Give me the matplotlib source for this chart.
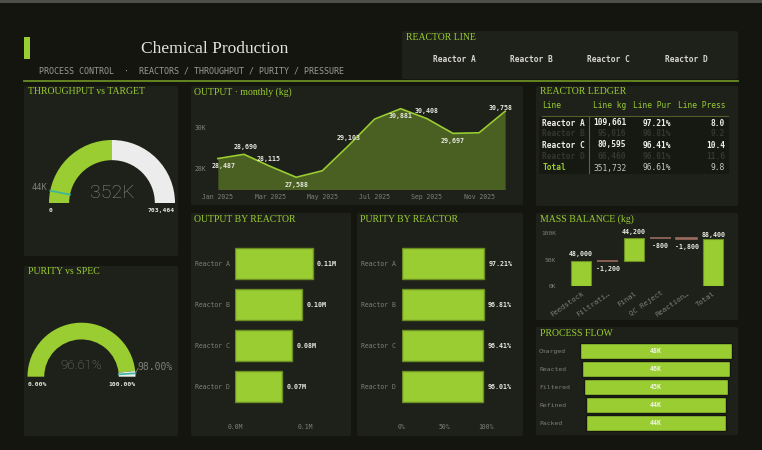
import matplotlib
matplotlib.use('Agg')
import matplotlib.pyplot as plt
from matplotlib.patches import Wedge, FancyBboxPatch, Rectangle
import numpy as np

# ---- data ----
months = ['Jan 2025', 'Feb 2025', 'Mar 2025', 'Apr 2025', 'May 2025', 'Jun 2025',
          'Jul 2025', 'Aug 2025', 'Sep 2025', 'Oct 2025', 'Nov 2025', 'Dec 2025']
monthly_kg = [28487, 28690, 28115, 27588, 27900, 29103,
              30380, 30881, 30408, 29697, 29725, 30758]
labeled_months = [0, 1, 2, 3, 5, 7, 8, 9, 11]

reactors = ['Reactor A', 'Reactor B', 'Reactor C', 'Reactor D']
reactor_kg = [109661, 95016, 80595, 66460]
reactor_purity = [97.21, 96.81, 96.41, 96.01]
reactor_pressure = [8.0, 9.2, 10.4, 11.6]

throughput_target = 703464
throughput_marker = 44000
purity_spec = 98.0

balance_steps = ['Feedstock', 'Filtrati\u2026', 'Final', 'QC Reject', 'Reaction\u2026']
balance_values = [48000, -1200, 44200, -800, -1800]

flow_stages = ['Charged', 'Reacted', 'Filtered', 'Refined', 'Packed']
flow_kg = [48000, 46400, 45200, 44200, 43900]

# ---- style ----
W, H = 762, 450
BG = '#14150f'
PANEL = '#1e2119'
GREEN = '#9acd32'
EDGE = '#6b8e23'
FILL = '#4a6022'
TEAL = '#3ab5a0'
GRAY = '#7e8076'
LIGHT = '#e8e8e0'
SERIF = 'Liberation Serif'

plt.rcParams['font.family'] = 'DejaVu Sans Mono'

fig = plt.figure(figsize=(W / 100, H / 100), dpi=100, facecolor=BG)
bg = fig.add_axes([0, 0, 1, 1])
bg.set_xlim(0, W)
bg.set_ylim(H, 0)
bg.axis('off')


def px_axes(x0, y0, x1, y1):
    ax = fig.add_axes([x0 / W, 1 - y1 / H, (x1 - x0) / W, (y1 - y0) / H])
    ax.patch.set_alpha(0)
    for s in ax.spines.values():
        s.set_visible(False)
    return ax


def panel(x0, y0, x1, y1, title=None):
    bg.add_patch(FancyBboxPatch((x0, y0), x1 - x0, y1 - y0,
                                boxstyle='round,pad=0,rounding_size=2',
                                fc=PANEL, ec='none'))
    if title:
        bg.text(x0 + 3.5, y0 + 6, title, family=SERIF, fontsize=7,
                color=GREEN, va='center', ha='left')


# header
bg.add_patch(Rectangle((0, 0), W, 2.5, fc='#4e4e4a', ec='none'))
bg.add_patch(Rectangle((24, 37), 6, 22, fc=GREEN, ec='none'))
bg.text(215, 49, 'Chemical Production', family=SERIF, fontsize=12.5,
        color='#e4e4dc', ha='center', va='center')
bg.text(39, 71.5, 'PROCESS CONTROL  \u00b7  REACTORS / THROUGHPUT / PURITY / PRESSURE',
        fontsize=6, color='#9a9b92', va='center')
bg.plot([24, 738], [81, 81], color=EDGE, lw=1.3)

panel(402, 31, 738, 79, 'REACTOR LINE')
for i, name in enumerate(reactors):
    bg.text(454.3 + 77.2 * i, 60, name, fontsize=5.7, fontweight='bold',
            color='#d8d8d0', ha='center', va='center')

panel(24, 86, 178, 256, 'THROUGHPUT vs TARGET')
panel(191, 86, 523, 205, 'OUTPUT \u00b7 monthly (kg)')
panel(536, 86, 738, 206, 'REACTOR LEDGER')
panel(24, 266, 178, 436, 'PURITY vs SPEC')
panel(191, 213, 351, 436, 'OUTPUT BY REACTOR')
panel(357, 213, 523, 436, 'PURITY BY REACTOR')
panel(536, 213, 738, 320, 'MASS BALANCE (kg)')
panel(536, 327, 738, 435, 'PROCESS FLOW')


# ---- gauges ----
def gauge(cx, cy, r, frac, marker_frac, width):
    ax = px_axes(cx - 1.4 * r, cy - 1.3 * r, cx + 1.4 * r, cy + 0.4 * r)
    ax.set_xlim(-1.4, 1.4)
    ax.set_ylim(-0.4, 1.3)
    ax.axis('off')
    a = 180 * (1 - frac)
    ax.add_patch(Wedge((0, 0), 1, a, 180, width=width, fc=GREEN, ec='none'))
    ax.add_patch(Wedge((0, 0), 1, 0, a, width=width, fc='#ececec', ec='none'))
    m = np.radians(180 * (1 - marker_frac))
    ax.plot([np.cos(m) * (1 - width), np.cos(m)], [np.sin(m) * (1 - width), np.sin(m)],
            color=TEAL, lw=1.2)
    return ax, m


total_kg = sum(reactor_kg)
ax, m = gauge(112, 203, 63, total_kg / throughput_target, throughput_marker / throughput_target, 0.32)
ax.text(0, 0.16, f'{total_kg / 1000:.0f}K', family='Roboto', fontweight='light',
        fontsize=14, color='#8a8a84', ha='center', va='center')
ax.text(np.cos(m) * 1.04, np.sin(m) + 0.05, f'{throughput_marker / 1000:.0f}K',
        fontsize=6.2, color=GRAY, ha='right', va='center')
ax.text(-1, -0.12, '0', fontsize=4.6, fontweight='bold', color=LIGHT, ha='left', va='center')
ax.text(1, -0.12, f'{throughput_target:,}', fontsize=4.6, fontweight='bold',
        color=LIGHT, ha='right', va='center')

avg_purity = np.mean(reactor_purity)
ax, m = gauge(81.5, 376.7, 54, avg_purity / 100, purity_spec / 100, 0.31)
ax.text(0, 0.2, f'{avg_purity:.2f}%', family='Roboto', fontweight='light',
        fontsize=9.5, color='#7e7e78', ha='center', va='center')
ax.plot([np.cos(m), 1.05], [np.sin(m), 0.16], color=GRAY, lw=0.6)
ax.text(1.04, 0.18, f'{purity_spec:.2f}%', fontsize=7, color=GRAY, ha='left', va='center')
ax.text(-1, -0.15, '0.00%', fontsize=4.6, fontweight='bold', color=LIGHT, ha='left', va='center')
ax.text(1, -0.15, '100.00%', fontsize=4.6, fontweight='bold', color=LIGHT, ha='right', va='center')

# ---- monthly output ----
ax = px_axes(210, 100, 513, 189.5)
x = np.arange(len(monthly_kg))
ax.fill_between(x, monthly_kg, 27000, color=FILL, lw=0)
ax.plot(x, monthly_kg, color=GREEN, lw=1.2)
ax.set_xlim(-0.3, 11.3)
ax.set_ylim(27000, 31300)
ax.set_yticks([28000, 30000])
ax.set_yticklabels(['28K', '30K'])
ax.set_xticks(x[::2])
ax.set_xticklabels(months[::2])
ax.tick_params(length=0, colors=GRAY, labelsize=4.7, pad=3)
offsets = {0: (4, -5.5), 1: (1, 5.5), 2: (-1, 5), 3: (0, -5.5), 5: (0, 5.8),
           7: (0, -5), 8: (0, 5.4), 9: (0, -5.5), 11: (-3.5, 2.3)}
for i in labeled_months:
    ax.annotate(f'{monthly_kg[i]:,}', (i, monthly_kg[i]), xytext=offsets[i],
                textcoords='offset points', ha='center', va='center',
                fontsize=4.8, fontweight='bold', color=LIGHT)

# ---- ledger ----
bg.add_patch(Rectangle((539, 117), 190, 57, fc='#161812', ec='none'))
bg.plot([542, 728], [116.3, 116.3], color='#4f5e2c', lw=0.8)
bg.plot([589.3, 589.3], [117, 173], color='#5a6b35', lw=0.8)
hdr_y = 105
for txt, xx, ha in [('Line', 542.3, 'left'), ('Line kg', 626.3, 'right'),
                    ('Line Pur', 671.3, 'right'), ('Line Press', 725, 'right')]:
    bg.text(xx, hdr_y, txt, fontsize=5.7, color=GREEN, ha=ha, va='center')
row_y = [123, 133.7, 145, 156.3]
for i, name in enumerate(reactors):
    bright = i % 2 == 0
    col = '#f0f0e8' if bright else '#34372f'
    kw = dict(fontsize=5.7, fontweight='bold', color=col, va='center')
    bg.text(542.3, row_y[i], name, ha='left', **kw)
    bg.text(626.3, row_y[i], f'{reactor_kg[i]:,}', ha='right', **kw)
    bg.text(671.3, row_y[i], f'{reactor_purity[i]:.2f}%', ha='right', **kw)
    bg.text(725, row_y[i], f'{reactor_pressure[i]:.1f}', ha='right', **kw)
kw = dict(fontsize=5.7, color='#c8c8c0', va='center', ha='right')
bg.text(542.3, 168, 'Total', fontsize=5.7, fontweight='bold', color=GREEN, va='center')
bg.text(626.3, 168, f'{total_kg:,}', **kw)
bg.text(671.3, 168, f'{avg_purity:.2f}%', **kw)
bg.text(725, 168, f'{np.mean(reactor_pressure):.1f}', **kw)


# ---- bars by reactor ----
def reactor_bars(x0, x1, values, xmax, ticks, ticklabels, fmt, ypad):
    ax = px_axes(x0, 243.3, x1, 407.3)
    y = np.arange(len(values))
    ax.barh(y, values, height=0.76, color=GREEN, edgecolor=EDGE, lw=1)
    ax.set_ylim(3.5, -0.5)
    ax.set_xlim(0, xmax)
    ax.set_xticks(ticks)
    ax.set_xticklabels(ticklabels)
    ax.set_yticks(y)
    ax.set_yticklabels(reactors)
    ax.tick_params(length=0, colors=GRAY, labelsize=4.7)
    ax.tick_params(axis='x', pad=12)
    ax.tick_params(axis='y', pad=ypad)
    for i, v in enumerate(values):
        ax.annotate(fmt(v), (v, i), xytext=(3.3, 0), textcoords='offset points',
                    ha='left', va='center', fontsize=4.8, fontweight='bold', color=LIGHT)


reactor_bars(235, 337.5, reactor_kg, 145000, [0, 100000], ['0.0M', '0.1M'],
             lambda v: f'{v / 1e6:.2f}M', 3.4)
reactor_bars(401.7, 520, reactor_purity, 140, [0, 50, 100], ['0%', '50%', '100%'],
             lambda v: f'{v:.2f}%', 4)

# ---- mass balance waterfall ----
ax = px_axes(560, 228.1, 729, 285.7)
cum = np.cumsum(balance_values)
bottoms = np.concatenate([[0], cum[:-1]])
for i, v in enumerate(balance_values):
    c = GREEN if v > 0 else '#9c6a5e'
    ec = EDGE if v > 0 else '#9c6a5e'
    ax.bar(i, v, bottom=bottoms[i], width=0.78, color=c, edgecolor=ec, lw=1.2 if v < 0 else 0.8)
    if v > 0:
        ax.annotate(f'{v:,}', (i, bottoms[i] + v), xytext=(0, 4.5), textcoords='offset points',
                    ha='center', va='center', fontsize=4.8, fontweight='bold', color=LIGHT)
    else:
        ax.annotate(f'{v:,}', (i, bottoms[i] + v), xytext=(0, -5.5), textcoords='offset points',
                    ha='center', va='center', fontsize=4.8, fontweight='bold', color=LIGHT)
n = len(balance_values)
ax.bar(n, cum[-1], width=0.78, color=GREEN, edgecolor=EDGE, lw=0.8)
ax.annotate(f'{cum[-1]:,}', (n, cum[-1]), xytext=(0, 3), textcoords='offset points',
            ha='center', va='center', fontsize=4.8, fontweight='bold', color=LIGHT)
ax.set_xlim(-0.8, 5.6)
ax.set_ylim(0, 110000)
ax.set_yticks([0, 50000, 100000])
ax.set_yticklabels(['0K', '50K', '100K'])
ax.set_xticks(np.arange(n + 1))
ax.set_xticklabels(balance_steps + ['Total'], rotation=35, ha='right', rotation_mode='anchor')
ax.tick_params(length=0, colors=GRAY, labelsize=4.5, pad=3)
ax.tick_params(axis='x', labelsize=5.2)

# ---- process flow funnel ----
ax = px_axes(576, 341.8, 736, 432.3)
y = np.arange(len(flow_kg))
vals = np.array(flow_kg)
ax.barh(y, vals, left=-vals / 2, height=0.89, color=GREEN, edgecolor='#15170f', lw=1)
ax.set_xlim(-25200, 25200)
ax.set_ylim(4.5, -0.5)
ax.set_xticks([])
ax.set_yticks(y)
ax.set_yticklabels(flow_stages, ha='left')
ax.tick_params(length=0, colors=GRAY, labelsize=4.6, pad=26.6)
for i, v in enumerate(flow_kg):
    ax.text(0, i, f'{v / 1000:.0f}K', ha='center', va='center', fontsize=4.8,
            fontweight='bold', color='#eef4e0')

fig.savefig('out.png', dpi=100, facecolor=BG)
